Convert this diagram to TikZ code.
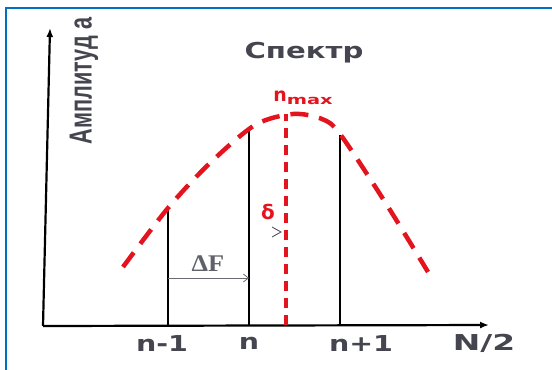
\documentclass[tikz,border=0pt]{standalone}
\usepackage{fontspec}
\setmainfont{DejaVu Sans}
\newfontfamily\libsans{Liberation Sans}
\newfontfamily\libserif{Liberation Serif}
\usetikzlibrary{arrows.meta}
\definecolor{frameblue}{HTML}{0070C0}
\definecolor{txtgray}{HTML}{45454F}
\definecolor{specred}{HTML}{E3141E}
\tikzset{
  axisline/.style={black, line width=2.2bp, -{Latex[length=9bp,width=7bp]}},
  barline/.style={black, line width=2.6bp},
  envelope/.style={specred, line width=4.5bp, dash pattern=on 18bp off 11bp},
  peakline/.style={specred, line width=3.5bp, dash pattern=on 10bp off 7bp},
  ticklabel/.style={text=txtgray, font=\bfseries\fontsize{22}{22}\selectfont, inner sep=0pt},
}
\begin{document}
\begin{tikzpicture}[x=1bp,y=-1bp]
\useasboundingbox (0,0) rectangle (552,369);
% frame
\draw[frameblue, line width=2.5bp] (6,370) -- (6,8) -- (553,8);
% axes
\coordinate (O) at (43,326);
\coordinate (Ytop) at (50,28);
\coordinate (Xend) at (489,325);
\draw[axisline] (O) -- (Ytop);
\draw[axisline] (O) -- (Xend);
% bars
\coordinate (b1) at (168,325); \coordinate (t1) at (168,207);
\coordinate (b2) at (249,325); \coordinate (t2) at (249,130);
\coordinate (b3) at (340,325); \coordinate (t3) at (340,135);
\draw[barline] (b1) -- (t1);
\draw[barline] (b2) -- (t2);
\draw[barline] (b3) -- (t3);
% envelope
\draw[envelope] plot[smooth, tension=0.5] coordinates {(123,267) (168,208) (210,163) (255,125) (293,114) (322,119) (340,134) (385,202) (428,272)};
% peak line
\coordinate (rb) at (286,325); \coordinate (rt) at (286,114);
\draw[peakline] (rb) -- (rt);
% delta F arrow
\coordinate (f1) at (168,278); \coordinate (f2) at (249,278);
\draw[txtgray!80, line width=0.8bp, -{Straight Barb[length=5bp,width=8bp]}] (f1) -- (f2);
\node[text=txtgray!85, font=\libserif\bfseries\fontsize{24}{24}\selectfont, inner sep=0pt] (dF) at (208,264) {\scalebox{1.1}[1]{ΔF}};
% delta
\node[text=specred, font=\bfseries\fontsize{20}{20}\selectfont, inner sep=0pt] (delta) at (268,212) {δ};
\coordinate (dh) at (281,232);
\draw[txtgray, line width=0.8bp] (272,227) -- (dh) -- (272,237);
% labels
\node[text=txtgray, font=\bfseries\fontsize{22}{22}\selectfont, inner sep=0pt] (title) at (304,53) {\scalebox{1.33}[1]{Спектр}};
\node[text=specred, font=\bfseries, inner sep=0pt] (nmax) at (303,98) {{\fontsize{19}{19}\selectfont n}\raisebox{-3bp}{\scalebox{1.5}[1]{\fontsize{13}{13}\selectfont max}}};
\node[text=txtgray, font=\libsans\bfseries\fontsize{32}{32}\selectfont, inner sep=0pt, rotate=90] (amp) at (84,81) {\scalebox{0.68}[1]{Амплитуд а}};
\node[ticklabel] (l1) at (162,343) {\scalebox{1.3}[1]{n-1}};
\node[ticklabel] (l2) at (249,343) {\scalebox{1.3}[1]{n}};
\node[ticklabel] (l3) at (361,343) {\scalebox{1.3}[1]{n+1}};
\node[ticklabel] (l4) at (484,343) {\scalebox{1.5}[1]{N/2}};
\end{tikzpicture}
\end{document}
